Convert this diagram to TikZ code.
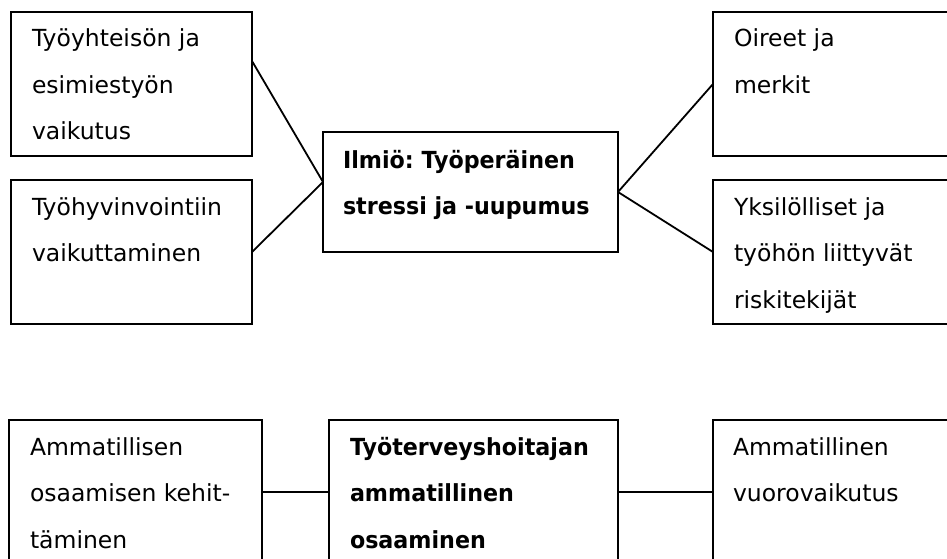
\documentclass[tikz,border=0pt]{standalone}
\usepackage{fontspec}
\setmainfont{DejaVu Sans}[BoldFeatures={FakeStretch=0.945}]
\frenchspacing
\newcommand\boxlines[1]{\vtop{\baselineskip=46.5pt\lineskip=0pt\lineskiplimit=-100pt #1}}
\begin{document}
\begin{tikzpicture}[x=1pt,y=-1pt,
  box/.style={draw, line width=1.8pt, rectangle, inner sep=0pt, outer sep=0pt, anchor=north west},
  txt/.style={inner sep=0pt, outer sep=0pt, anchor=base west, font=\fontsize{23.5pt}{28pt}\selectfont},
  link/.style={line width=1.8pt}]
\useasboundingbox (0,0) rectangle (947,559);
\clip (0,0) rectangle (947,559);
% top boxes
\node[box, minimum width=241pt, minimum height=144pt] (A) at (11,12) {};
\node[box, minimum width=241pt, minimum height=144pt] (B) at (11,180) {};
\node[box, minimum width=295pt, minimum height=120pt] (C) at (323,132) {};
\node[box, minimum width=250pt, minimum height=144pt] (D) at (713,12) {};
\node[box, minimum width=250pt, minimum height=144pt] (E) at (713,180) {};
% bottom boxes
\node[box, minimum width=253pt, minimum height=144pt] (F) at (9,420) {};
\node[box, minimum width=289pt, minimum height=144pt] (G) at (329,420) {};
\node[box, minimum width=250pt, minimum height=144pt] (H) at (713,420) {};
% texts
\node[txt] (At) at ([shift={(21,35)}]A.north west) {\boxlines{\hbox{Työyhteisön ja}\hbox{esimiestyön}\hbox{vaikutus}}};
\node[txt] (Bt) at ([shift={(21,35)}]B.north west) {\boxlines{\hbox{Työhyvinvointiin}\hbox{vaikuttaminen}}};
\node[txt] (Ct) at ([shift={(20,36)}]C.north west) {\boxlines{\hbox{\bfseries Ilmiö: Työperäinen}\hbox{\bfseries stressi ja -uupumus}}};
\node[txt] (Dt) at ([shift={(21,35)}]D.north west) {\boxlines{\hbox{Oireet ja}\hbox{merkit}}};
\node[txt] (Et) at ([shift={(21,35)}]E.north west) {\boxlines{\hbox{Yksilölliset ja}\hbox{työhön liittyvät}\hbox{riskitekijät}}};
\node[txt] (Ft) at ([shift={(21,35)}]F.north west) {\boxlines{\hbox{Ammatillisen}\hbox{osaamisen kehit-}\hbox{täminen}}};
\node[txt] (Gt) at ([shift={(21,35)}]G.north west) {\boxlines{\hbox{\bfseries Työterveyshoitajan}\hbox{\bfseries ammatillinen}\hbox{\bfseries osaaminen}}};
\node[txt] (Ht) at ([shift={(20,35)}]H.north west) {\boxlines{\hbox{Ammatillinen}\hbox{vuorovaikutus}}};
% connectors
\draw[link] ([yshift=23pt]A.east) -- ([yshift=10pt]C.west);
\draw[link] (B.east) -- ([yshift=10pt]C.west);
\draw[link] (C.east) -- (D.west);
\draw[link] (C.east) -- (E.west);
\draw[link] (F.east) -- (G.west);
\draw[link] (G.east) -- (H.west);
\end{tikzpicture}
\end{document}
